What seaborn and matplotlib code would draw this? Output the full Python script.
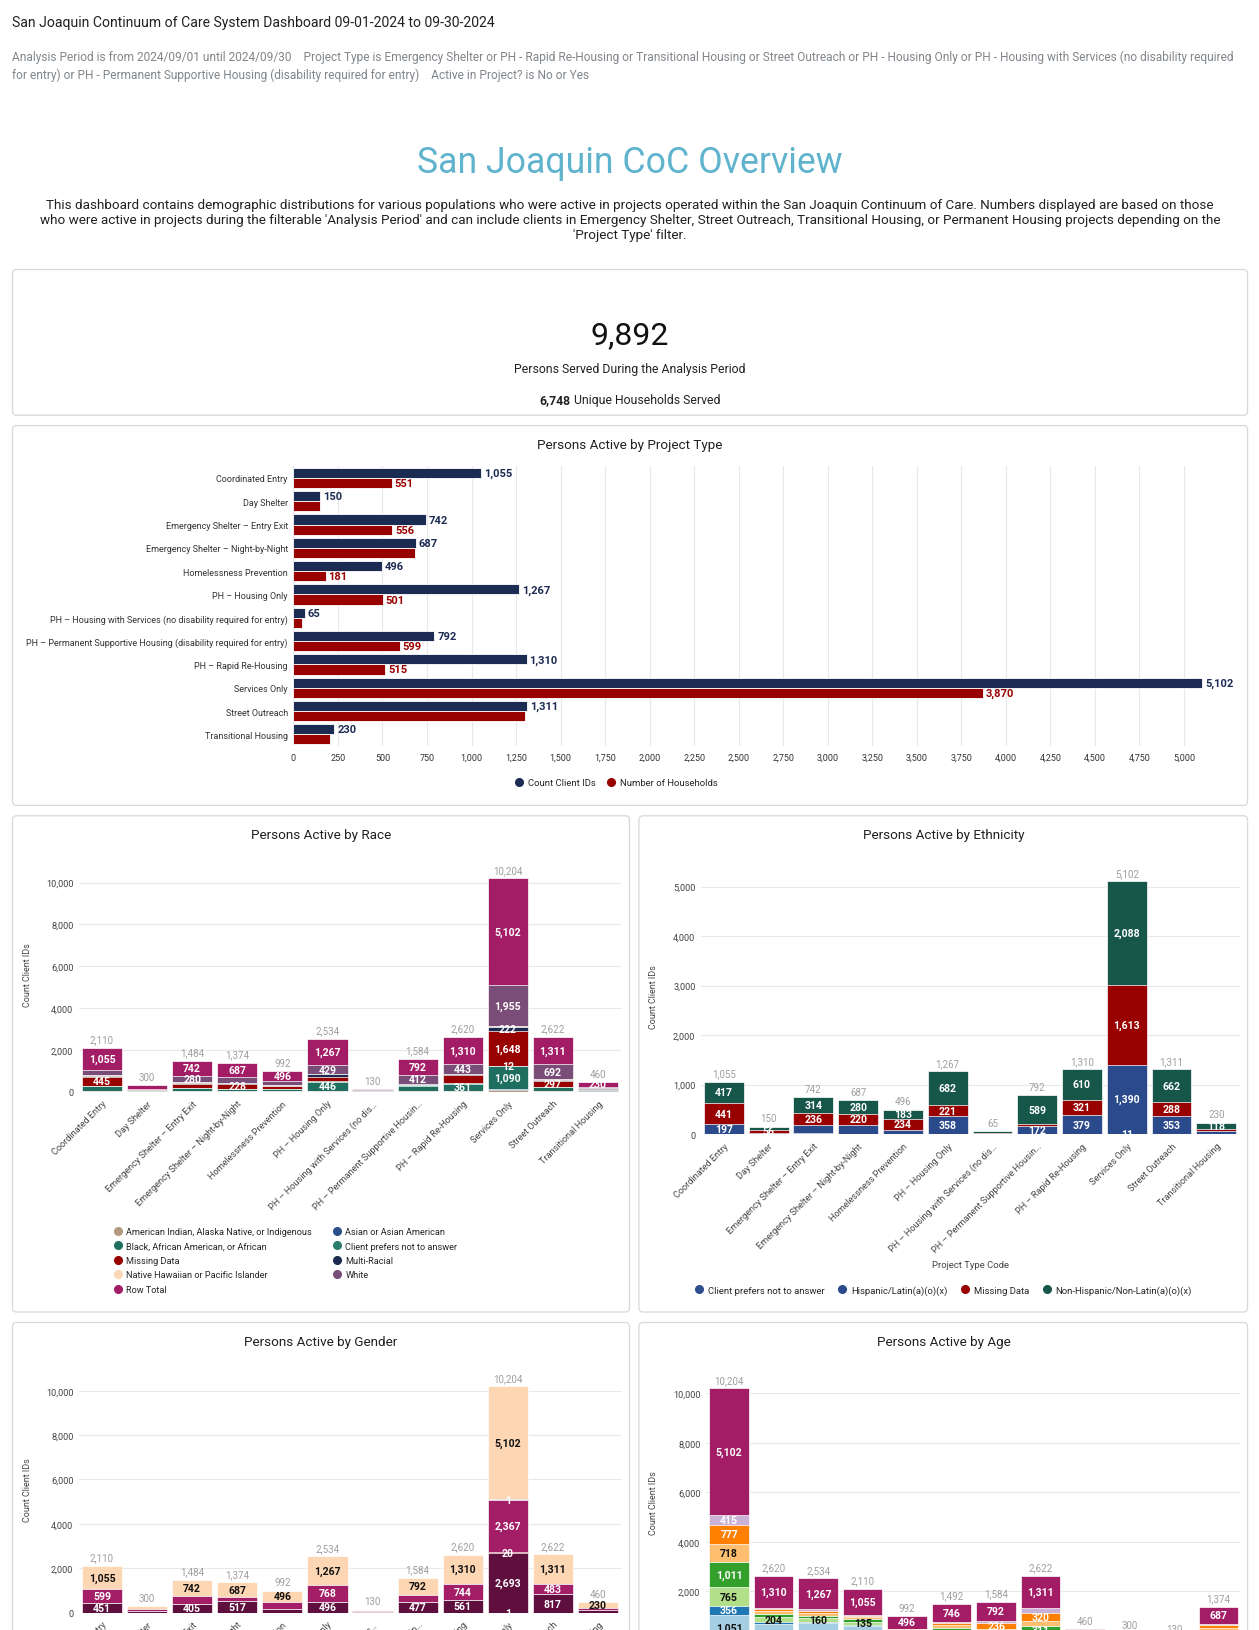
#!/usr/bin/env python3

import numpy as np
import pandas as pd
import matplotlib

matplotlib.use("Agg")
import matplotlib.pyplot as plt
from matplotlib.patches import FancyBboxPatch
from matplotlib.lines import Line2D
from matplotlib.ticker import FuncFormatter
import seaborn as sns

W, H = 1259, 1631

projects = [
    "Coordinated Entry",
    "Day Shelter",
    "Emergency Shelter – Entry Exit",
    "Emergency Shelter – Night-by-Night",
    "Homelessness Prevention",
    "PH – Housing Only",
    "PH – Housing with Services (no disability required for entry)",
    "PH – Permanent Supportive Housing (disability required for entry)",
    "PH – Rapid Re-Housing",
    "Services Only",
    "Street Outreach",
    "Transitional Housing",
]
short_projects = [
    "Coordinated Entry",
    "Day Shelter",
    "Emergency Shelter – Entry Exit",
    "Emergency Shelter – Night-by-Night",
    "Homelessness Prevention",
    "PH – Housing Only",
    "PH – Housing with Services (no dis…",
    "PH – Permanent Supportive Housin…",
    "PH – Rapid Re-Housing",
    "Services Only",
    "Street Outreach",
    "Transitional Housing",
]

# persons active by project type
clients = [1055, 150, 742, 687, 496, 1267, 65, 792, 1310, 5102, 1311, 230]
households = [551, 150, 556, 683, 181, 501, 47, 599, 515, 3870, 1300, 204]
households_printed = [551, None, 556, None, 181, 501, None, 599, 515, 3870, None, None]

# race
race_series = [
    "American Indian, Alaska Native, or Indigenous",
    "Asian or Asian American",
    "Black, African American, or African",
    "Client prefers not to answer",
    "Missing Data",
    "Multi-Racial",
    "Native Hawaiian or Pacific Islander",
    "White",
    "Row Total",
]
race_values = [
    [30, 5, 30, 20, 15, 10, 2, 20, 10, 60, 25, 5],
    [25, 3, 25, 15, 20, 20, 1, 15, 15, 70, 20, 5],
    [200, 40, 110, 100, 80, 446, 20, 260, 361, 1090, 170, 70],
    [15, 2, 20, 10, 10, 15, 1, 15, 20, 12, 20, 5],
    [445, 30, 200, 228, 150, 230, 10, 20, 380, 1648, 297, 60],
    [50, 10, 55, 40, 20, 102, 5, 40, 60, 222, 50, 20],
    [15, 2, 22, 10, 5, 15, 1, 10, 21, 45, 37, 5],
    [275, 58, 280, 264, 196, 429, 25, 412, 443, 1955, 692, 60],
    [1055, 150, 742, 687, 496, 1267, 65, 792, 1310, 5102, 1311, 230],
]
race_printed = [
    [1055, 445], [], [742, 280], [687, 228], [496], [1267, 429, 446], [],
    [792, 412], [1310, 443, 361], [5102, 1955, 222, 1648, 12, 1090],
    [1311, 692, 297], [230],
]

# ethnicity
eth_series = [
    "Client prefers not to answer",
    "Hispanic/Latin(a)(o)(x)",
    "Missing Data",
    "Non-Hispanic/Non-Latin(a)(o)(x)",
]
eth_values = [
    [0, 2, 20, 5, 4, 6, 1, 0, 0, 11, 8, 2],
    [197, 30, 172, 182, 75, 358, 10, 172, 379, 1390, 353, 60],
    [441, 56, 236, 220, 234, 221, 8, 31, 321, 1613, 288, 50],
    [417, 62, 314, 280, 183, 682, 46, 589, 610, 2088, 662, 118],
]
eth_printed = [
    [197, 441, 417], [56], [236, 314], [220, 280], [234, 183], [358, 221, 682],
    [], [172, 589], [379, 321, 610], [11, 1390, 1613, 2088], [353, 288, 662], [118],
]

# gender
gender_series = [
    "Client prefers not to answer",
    "Man (Boy, if child)",
    "Missing Data",
    "Woman (Girl, if child)",
    "Transgender",
    "Non-Binary",
    "Row Total",
]
gender_values = [
    [1, 1, 2, 1, 1, 1, 0, 1, 2, 1, 5, 2],
    [451, 95, 405, 517, 165, 496, 30, 477, 561, 2693, 817, 120],
    [2, 0, 0, 0, 0, 0, 0, 0, 0, 20, 0, 0],
    [599, 53, 333, 168, 329, 768, 35, 313, 744, 2367, 483, 105],
    [2, 1, 2, 1, 1, 2, 0, 1, 3, 1, 6, 3],
    [0, 0, 0, 0, 0, 0, 0, 0, 0, 20, 0, 0],
    [1055, 150, 742, 687, 496, 1267, 65, 792, 1310, 5102, 1311, 230],
]
gender_printed = [
    [1055, 599, 451], [], [742, 405], [687, 517], [496], [1267, 768, 496], [],
    [792, 477], [1310, 744, 561], [5102, 1, 2367, 20, 2693, 1], [1311, 483, 817], [230],
]

# age (bars in a different order)
age_order = [9, 8, 5, 0, 4, 2, 7, 10, 11, 1, 6, 3]
age_series = [
    "Under 18", "18 to 24", "25 to 34", "35 to 44", "Unknown",
    "45 to 54", "55 to 64", "65 and Over", "Row Total",
]
age_values = [
    [1051, 690, 700, 580, 200, 250, 150, 80, 80, 40, 20, 200],
    [356, 50, 50, 60, 30, 50, 30, 30, 10, 10, 5, 40],
    [765, 204, 160, 135, 60, 110, 100, 170, 40, 30, 10, 100],
    [1011, 150, 100, 100, 60, 90, 100, 311, 40, 30, 10, 100],
    [9, 2, 0, 0, 0, 0, 0, 0, 0, 0, 0, 0],
    [718, 110, 120, 90, 60, 120, 100, 209, 30, 20, 10, 80],
    [777, 60, 80, 50, 50, 80, 236, 320, 20, 15, 5, 120],
    [415, 44, 57, 40, 36, 46, 76, 191, 10, 5, 5, 47],
    [5102, 1310, 1267, 1055, 496, 746, 792, 1311, 230, 150, 65, 687],
]
age_printed = [
    [5102, 415, 777, 718, 1011, 765, 356, 1051], [1310, 204], [1267, 160],
    [1055, 135], [496], [746], [792, 236], [1311, 320, 311], [], [], [], [687],
]

NAVY = "#1c2b52"
RED = "#990000"
race_colors = ["#b39a7f", "#2c4f8c", "#1f6f61", "#2a7d6c", RED, "#1b2a4e",
               "#fdd7b5", "#7a4d78", "#a21d66"]
race_text = ["white"] * 6 + ["#222222", "white", "white"]
eth_colors = ["#2f4f8f", "#2a4a8b", RED, "#17574a"]
eth_text = ["white"] * 4
gender_colors = ["#4b0d33", "#5e0f3e", RED, "#a31d67", "#7a4d78", "#b08aa8", "#fdd6b4"]
gender_text = ["white"] * 6 + ["#111111"]
age_colors = ["#a6cee3", "#1f78b4", "#b2df8a", "#33a02c", "#fb9a99",
              "#fdbf6f", "#ff7f00", "#cab2d6", "#a21d66"]
age_text = ["#111111", "white", "#111111", "white", "#111111",
            "#111111", "white", "white", "white"]

sns.set_theme(style="white")
plt.rcParams["font.family"] = ["Roboto", "DejaVu Sans"]

fig = plt.figure(figsize=(W / 100, H / 100), dpi=100)
fig.patch.set_facecolor("white")


def add_ax(x0, y0, x1, y1):
    return fig.add_axes([x0 / W, 1 - y1 / H, (x1 - x0) / W, (y1 - y0) / H])


def ftext(x, y, s, **kw):
    kw.setdefault("va", "center")
    return fig.text(x / W, 1 - y / H, s, **kw)


def card(x0, y0, x1, y1):
    fig.add_artist(FancyBboxPatch(
        (x0 / W, 1 - y1 / H), (x1 - x0) / W, (y1 - y0) / H,
        boxstyle="round,pad=0,rounding_size=0.003", transform=fig.transFigure,
        facecolor="white", edgecolor="#d6d8dc", linewidth=0.9, zorder=-1))


comma = FuncFormatter(lambda v, _: f"{int(v):,}")

# header
ftext(12.5, 23, "San Joaquin Continuum of Care System Dashboard 09-01-2024 to 09-30-2024",
      fontsize=10.1, color="#202124")
ftext(12.5, 57, "Analysis Period is from 2024/09/01 until 2024/09/30    Project Type is Emergency "
      "Shelter or PH - Rapid Re-Housing or Transitional Housing or Street Outreach or PH - Housing "
      "Only or PH - Housing with Services (no disability required", fontsize=8.6, color="#80868b")
ftext(12.5, 75, "for entry) or PH - Permanent Supportive Housing (disability required for entry)"
      "    Active in Project? is No or Yes", fontsize=8.6, color="#80868b")
ftext(630, 163, "San Joaquin CoC Overview", fontsize=25.7, color="#5fb3cd", ha="center")
desc = [
    "This dashboard contains demographic distributions for various populations who were active in "
    "projects operated within the San Joaquin Continuum of Care. Numbers displayed are based on those",
    "who were active in projects during the filterable 'Analysis Period' and can include clients in "
    "Emergency Shelter, Street Outreach, Transitional Housing, or Permanent Housing projects depending on the",
    "'Project Type' filter.",
]
for k, line in enumerate(desc):
    ftext(630, 205 + 15.5 * k, line, fontsize=9.7, color="#202124", ha="center")

for c in [(12.5, 270.5, 1247.6, 416.2), (12.5, 426.6, 1247.6, 806.4),
          (12.5, 816.8, 629.5, 1313), (638.9, 816.8, 1247.6, 1313),
          (12.5, 1323.5, 629.5, 1680), (638.9, 1323.5, 1247.6, 1680)]:
    card(*c)

# KPI
ftext(630, 336, "9,892", fontsize=23, color="#111111", ha="center")
ftext(630, 369, "Persons Served During the Analysis Period", fontsize=8.8, color="#202124", ha="center")
ftext(571, 400.6, "6,748", fontsize=8.8, color="#202124", ha="right", fontweight="bold")
ftext(574, 400.6, "Unique Households Served", fontsize=8.8, color="#202124", ha="left")

# persons active by project type
ftext(630, 445, "Persons Active by Project Type", fontsize=9.7, color="#202124", ha="center")
hb = pd.DataFrame({
    "project": projects * 2,
    "value": clients + households,
    "series": ["Count Client IDs"] * 12 + ["Number of Households"] * 12,
})
ax = add_ax(293.4, 467.3, 1203.6, 747)
sns.barplot(data=hb, x="value", y="project", hue="series", order=projects,
            hue_order=["Count Client IDs", "Number of Households"], palette=[NAVY, RED],
            orient="h", width=0.87, saturation=1, edgecolor="white", linewidth=0.6,
            errorbar=None, legend=False, ax=ax)
ax.bar_label(ax.containers[0], labels=[f"{v:,}" for v in clients], padding=2,
             fontsize=8, fontweight="bold", color=NAVY)
ax.bar_label(ax.containers[1], labels=[f"{v:,}" if v else "" for v in households_printed],
             padding=2, fontsize=8, fontweight="bold", color=RED)
ax.set_xlim(0, 5110)
ax.set_ylim(11.5, -0.5)
ax.set_xticks(np.arange(0, 5001, 250))
ax.xaxis.set_major_formatter(comma)
ax.grid(axis="x", color="#e8e8e8", linewidth=0.8)
ax.set_axisbelow(True)
ax.set_xlabel("")
ax.set_ylabel("")
ax.tick_params(axis="both", length=0, labelsize=6.5, labelcolor="#333333")
ax.tick_params(axis="y", pad=4)
ax.tick_params(axis="x", pad=5)
sns.despine(ax=ax, left=True, bottom=True)
fig.legend(handles=[Line2D([], [], marker="o", ls="", color=NAVY, markersize=5.5),
                    Line2D([], [], marker="o", ls="", color=RED, markersize=5.5)],
           labels=["Count Client IDs", "Number of Households"], loc="center",
           bbox_to_anchor=(616 / W, 1 - 784 / H), ncol=2, frameon=False, fontsize=6.8,
           handlelength=1, handletextpad=0.4, columnspacing=1.2, borderpad=0)


def stacked(ax, cats, values, colors, text_colors, printed, ymax, ystep, xlim):
    vals = np.array(values, dtype=float)
    cum = vals.cumsum(axis=0)
    for i in range(len(vals) - 1, -1, -1):
        sns.barplot(x=cats, y=cum[i], order=cats, color=colors[i], saturation=1,
                    width=0.89, edgecolor="white", linewidth=0.5, errorbar=None, ax=ax)
    for j in range(len(cats)):
        pool = list(printed[j])
        for i in range(len(vals)):
            v = int(vals[i, j])
            if v > 0 and v in pool:
                pool.remove(v)
                ax.text(j, cum[i, j] - v / 2, f"{v:,}", ha="center", va="center",
                        fontsize=7.6, fontweight="bold", color=text_colors[i])
        tot = int(cum[-1, j])
        ax.annotate(f"{tot:,}", (j, tot), xytext=(0, 6), textcoords="offset points",
                    ha="center", va="center", fontsize=7, color="#9e9e9e")
    ax.set_xlim(*xlim)
    ax.set_ylim(0, ymax)
    ax.set_yticks(np.arange(0, ymax, ystep))
    ax.yaxis.set_major_formatter(comma)
    ax.grid(axis="y", color="#e8e8e8", linewidth=0.8)
    ax.set_axisbelow(True)
    ax.set_xlabel("")
    ax.set_ylabel("")
    ax.set_xticks(range(len(cats)))
    ax.set_xticklabels(cats, rotation=45, ha="right", rotation_mode="anchor")
    ax.tick_params(axis="both", length=0, labelsize=6.6, labelcolor="#444444")
    ax.tick_params(axis="x", pad=5)
    ax.tick_params(axis="y", pad=4)
    sns.despine(ax=ax, left=True, bottom=True)


def dot(color):
    return Line2D([], [], marker="o", ls="", color=color, markersize=5.5)


# race
ftext(321, 835.7, "Persons Active by Race", fontsize=9.7, color="#202124", ha="center")
ax = add_ax(79, 874, 621, 1092.7)
stacked(ax, short_projects, race_values, race_colors, race_text, race_printed,
        10460, 2000, (-0.51, 11.51))
ftext(28, 975, "Count Client IDs", fontsize=6.5, color="#444444", ha="center", rotation=90)
col1 = [0, 2, 4, 6, 8]
col2 = [1, 3, 5, 7]
for idx, x0 in [(col1, 113), (col2, 332.5)]:
    fig.legend(handles=[dot(race_colors[i]) for i in idx], labels=[race_series[i] for i in idx],
               loc="upper left", bbox_to_anchor=(x0 / W, 1 - 1228 / H), frameon=False,
               fontsize=6.6, handlelength=1, handletextpad=0.4, labelspacing=0.6,
               borderpad=0, borderaxespad=0)

# ethnicity
ftext(943.6, 835.7, "Persons Active by Ethnicity", fontsize=9.7, color="#202124", ha="center")
ax = add_ax(701, 879, 1240, 1135.2)
stacked(ax, short_projects, eth_values, eth_colors, eth_text, eth_printed,
        5172, 1000, (-0.51, 11.53))
ftext(654, 997, "Count Client IDs", fontsize=6.5, color="#444444", ha="center", rotation=90)
ftext(970, 1266, "Project Type Code", fontsize=6.8, color="#444444", ha="center")
fig.legend(handles=[dot(c) for c in eth_colors], labels=eth_series, loc="center",
           bbox_to_anchor=(943 / W, 1 - 1291 / H), ncol=4, frameon=False, fontsize=6.8,
           handlelength=1, handletextpad=0.4, columnspacing=1.4, borderpad=0)

# gender
ftext(321, 1342.3, "Persons Active by Gender", fontsize=9.7, color="#202124", ha="center")
ax = add_ax(79, 1381.7, 621, 1613.7)
stacked(ax, short_projects, gender_values, gender_colors, gender_text, gender_printed,
        10450, 2000, (-0.51, 11.51))
ftext(28, 1490, "Count Client IDs", fontsize=6.5, color="#444444", ha="center", rotation=90)

# age
ftext(943.6, 1342.3, "Persons Active by Age", fontsize=9.7, color="#202124", ha="center")
ax = add_ax(706, 1383.2, 1240, 1641.8)
stacked(ax, [short_projects[k] for k in age_order], age_values, age_colors, age_text,
        age_printed, 10450, 2000, (-0.52, 11.48))
ftext(654, 1503, "Count Client IDs", fontsize=6.5, color="#444444", ha="center", rotation=90)

fig.savefig("out.png", dpi=100)
